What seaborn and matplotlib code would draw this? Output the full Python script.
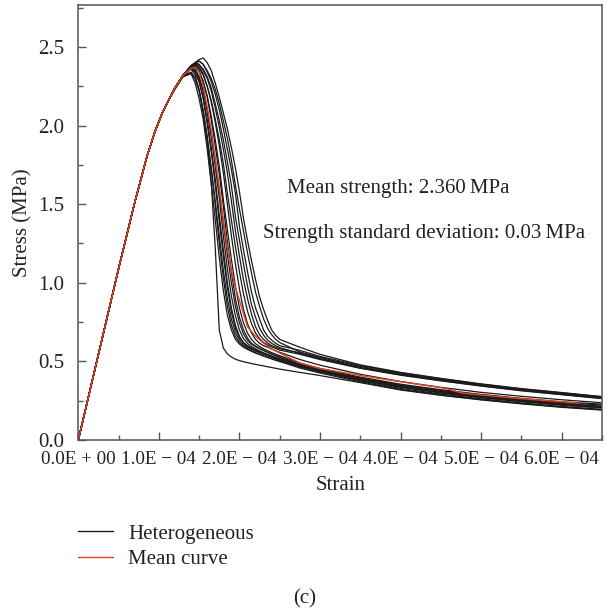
import numpy as np
import pandas as pd
import matplotlib
matplotlib.use("Agg")
import matplotlib.pyplot as plt
from matplotlib.lines import Line2D
import seaborn as sns

# ---------------- data (strain in units of 1e-4, stress in MPa) ----------------
STRAIN_UNIT = 1e-4

# shared elastic rise (all curves coincide here)
rise_strain = [0.0, 0.25, 0.5, 0.7, 0.85, 0.95, 1.05, 1.12]
rise_stress = [0.0, 0.545, 1.09, 1.51, 1.80, 1.96, 2.09, 2.16]

# common strain grid for the post-rise part of the heterogeneous curves
post_strain = [1.2, 1.3, 1.4, 1.45, 1.5, 1.55, 1.6, 1.65, 1.7, 1.75, 1.8, 1.85,
               1.9, 1.95, 2.0, 2.05, 2.1, 2.15, 2.2, 2.25, 2.3, 2.35, 2.4, 2.45,
               2.5, 2.75, 3.0, 3.5, 4.0, 4.5, 5.0, 5.5, 6.0, 6.5]

het_01 = [2.23, 2.31, 2.33, 2.30, 2.22, 2.08, 1.90, 1.64, 1.22, 0.70, 0.585, 0.548,
          0.528, 0.514, 0.505, 0.498, 0.492, 0.486, 0.481, 0.476, 0.471, 0.466, 0.461, 0.456,
          0.451, 0.430, 0.410, 0.365, 0.318, 0.284, 0.255, 0.230, 0.208, 0.190]
het_02 = [2.24, 2.32, 2.33, 2.27, 2.17, 2.04, 1.85, 1.63, 1.40, 1.16, 0.95, 0.795,
          0.70, 0.64, 0.61, 0.59, 0.576, 0.564, 0.553, 0.543, 0.534, 0.525, 0.517, 0.509,
          0.502, 0.466, 0.436, 0.382, 0.336, 0.300, 0.270, 0.245, 0.223, 0.205]
het_03 = [2.24, 2.32, 2.36, 2.32, 2.23, 2.10, 1.93, 1.72, 1.49, 1.25, 1.03, 0.85,
          0.73, 0.66, 0.62, 0.598, 0.582, 0.568, 0.556, 0.545, 0.535, 0.525, 0.516, 0.507,
          0.499, 0.458, 0.426, 0.370, 0.322, 0.287, 0.257, 0.232, 0.210, 0.193]
het_04 = [2.24, 2.32, 2.34, 2.30, 2.22, 2.09, 1.92, 1.73, 1.52, 1.30, 1.08, 0.90,
          0.77, 0.685, 0.635, 0.608, 0.590, 0.577, 0.565, 0.555, 0.545, 0.536, 0.527, 0.518,
          0.510, 0.470, 0.440, 0.388, 0.343, 0.307, 0.277, 0.252, 0.230, 0.213]
het_05 = [2.24, 2.32, 2.37, 2.34, 2.28, 2.17, 2.01, 1.83, 1.62, 1.39, 1.17, 0.97,
          0.815, 0.71, 0.652, 0.617, 0.598, 0.583, 0.570, 0.558, 0.547, 0.537, 0.527, 0.518,
          0.509, 0.470, 0.438, 0.383, 0.337, 0.300, 0.270, 0.245, 0.222, 0.205]
het_06 = [2.24, 2.32, 2.36, 2.34, 2.28, 2.18, 2.04, 1.86, 1.66, 1.43, 1.21, 1.00,
          0.84, 0.73, 0.66, 0.62, 0.600, 0.585, 0.573, 0.562, 0.552, 0.543, 0.534, 0.525,
          0.517, 0.478, 0.447, 0.395, 0.350, 0.315, 0.285, 0.260, 0.238, 0.222]
het_07 = [2.24, 2.32, 2.375, 2.36, 2.31, 2.22, 2.09, 1.93, 1.74, 1.54, 1.30, 1.09,
          0.915, 0.79, 0.70, 0.645, 0.615, 0.595, 0.580, 0.567, 0.555, 0.544, 0.533, 0.523,
          0.513, 0.465, 0.432, 0.376, 0.328, 0.292, 0.262, 0.236, 0.213, 0.195]
het_08 = [2.24, 2.32, 2.37, 2.35, 2.30, 2.22, 2.10, 1.95, 1.78, 1.59, 1.38, 1.18,
          1.00, 0.85, 0.745, 0.675, 0.633, 0.610, 0.594, 0.581, 0.569, 0.558, 0.547, 0.537,
          0.528, 0.482, 0.448, 0.392, 0.347, 0.310, 0.280, 0.255, 0.232, 0.215]
het_09 = [2.24, 2.32, 2.375, 2.385, 2.35, 2.28, 2.18, 2.04, 1.87, 1.69, 1.49, 1.26,
          1.07, 0.90, 0.78, 0.70, 0.648, 0.615, 0.597, 0.583, 0.570, 0.558, 0.546, 0.536,
          0.526, 0.475, 0.440, 0.385, 0.338, 0.302, 0.272, 0.247, 0.224, 0.206]
het_10 = [2.24, 2.32, 2.375, 2.375, 2.34, 2.28, 2.19, 2.06, 1.91, 1.74, 1.53, 1.34,
          1.15, 0.98, 0.84, 0.745, 0.68, 0.64, 0.612, 0.595, 0.580, 0.568, 0.556, 0.546,
          0.536, 0.490, 0.455, 0.400, 0.355, 0.320, 0.290, 0.265, 0.243, 0.228]
het_11 = [2.24, 2.32, 2.38, 2.395, 2.375, 2.33, 2.25, 2.15, 2.02, 1.87, 1.70, 1.50,
          1.30, 1.12, 0.96, 0.83, 0.74, 0.68, 0.64, 0.615, 0.600, 0.590, 0.578, 0.568,
          0.558, 0.512, 0.476, 0.418, 0.372, 0.335, 0.303, 0.278, 0.256, 0.237]
het_12 = [2.24, 2.32, 2.38, 2.39, 2.365, 2.32, 2.25, 2.16, 2.04, 1.91, 1.76, 1.57,
          1.40, 1.23, 1.07, 0.93, 0.82, 0.74, 0.68, 0.645, 0.620, 0.605, 0.592, 0.582,
          0.572, 0.545, 0.512, 0.456, 0.412, 0.376, 0.343, 0.313, 0.288, 0.263]
het_13 = [2.24, 2.32, 2.38, 2.40, 2.39, 2.35, 2.30, 2.22, 2.11, 1.99, 1.85, 1.70,
          1.52, 1.33, 1.17, 1.02, 0.90, 0.80, 0.72, 0.67, 0.640, 0.617, 0.600, 0.590,
          0.580, 0.555, 0.520, 0.462, 0.420, 0.383, 0.350, 0.320, 0.295, 0.270]
het_14 = [2.24, 2.32, 2.37, 2.40, 2.385, 2.36, 2.31, 2.24, 2.14, 2.03, 1.91, 1.77,
          1.62, 1.42, 1.27, 1.12, 0.98, 0.86, 0.78, 0.71, 0.667, 0.635, 0.615, 0.600,
          0.588, 0.550, 0.515, 0.458, 0.415, 0.378, 0.345, 0.315, 0.290, 0.265]
het_15 = [2.24, 2.32, 2.38, 2.40, 2.41, 2.39, 2.34, 2.28, 2.20, 2.10, 1.98, 1.85,
          1.72, 1.57, 1.36, 1.21, 1.07, 0.94, 0.84, 0.77, 0.70, 0.66, 0.635, 0.615,
          0.600, 0.570, 0.532, 0.474, 0.428, 0.390, 0.355, 0.325, 0.300, 0.275]
het_16 = [2.24, 2.32, 2.38, 2.40, 2.41, 2.39, 2.35, 2.30, 2.23, 2.14, 2.03, 1.92,
          1.78, 1.62, 1.47, 1.33, 1.19, 1.06, 0.94, 0.85, 0.77, 0.71, 0.67, 0.64,
          0.620, 0.560, 0.525, 0.468, 0.422, 0.385, 0.350, 0.320, 0.295, 0.270]
het_17 = [2.24, 2.32, 2.38, 2.40, 2.42, 2.43, 2.40, 2.35, 2.27, 2.18, 2.08, 1.98,
          1.86, 1.73, 1.58, 1.41, 1.27, 1.14, 1.02, 0.91, 0.83, 0.76, 0.70, 0.665,
          0.640, 0.590, 0.545, 0.478, 0.430, 0.392, 0.357, 0.327, 0.302, 0.276]

het_curves = [het_01, het_02, het_03, het_04, het_05, het_06, het_07, het_08, het_09,
              het_10, het_11, het_12, het_13, het_14, het_15, het_16, het_17]

# mean curve (post-rise part)
mean_strain = [1.2, 1.3, 1.4, 1.45, 1.5, 1.55, 1.6, 1.65, 1.7, 1.75, 1.8, 1.85, 1.9,
               1.95, 2.0, 2.1, 2.2, 2.3, 2.4, 2.5, 2.75, 3.0, 3.5, 4.0, 4.5, 4.6,
               4.75, 5.0, 5.5, 6.0, 6.22]
mean_stress = [2.24, 2.32, 2.365, 2.37, 2.34, 2.25, 2.12, 1.97, 1.79, 1.60, 1.40, 1.22, 1.08,
               0.97, 0.89, 0.72, 0.66, 0.615, 0.58, 0.553, 0.49, 0.455, 0.41, 0.371, 0.333, 0.323,
               0.300, 0.286, 0.263, 0.243, 0.234]

x_tick_values = [0, 1, 2, 3, 4, 5, 6]
x_tick_labels = ["0.0E + 00", "1.0E \u2212 04", "2.0E \u2212 04", "3.0E \u2212 04",
                 "4.0E \u2212 04", "5.0E \u2212 04", "6.0E \u2212 04"]
y_tick_values = [0.0, 0.5, 1.0, 1.5, 2.0, 2.5]
y_tick_labels = ["0.0", "0.5", "1.0", "1.5", "2.0", "2.5"]

mean_strength_text = "Mean strength: 2.360\u2009MPa"
std_text = "Strength standard deviation: 0.03\u2009MPa"

# ---------------- build long-form table ----------------
rows = []
for i, curve in enumerate(het_curves):
    xs = list(rise_strain) + list(post_strain)
    ys = list(rise_stress) + list(curve)
    for k, (sx, sy) in enumerate(zip(xs, ys)):
        rows.append({"curve": i, "order": k, "strain": sx * STRAIN_UNIT, "stress": sy})
het_df = pd.DataFrame(rows)
mean_df = pd.DataFrame({
    "strain": np.array(list(rise_strain) + list(mean_strain)) * STRAIN_UNIT,
    "stress": list(rise_stress) + list(mean_stress),
})

# ---------------- style ----------------
sns.set_style("ticks")
plt.rcParams["font.family"] = ["Liberation Serif", "DejaVu Serif"]
plt.rcParams["mathtext.fontset"] = "stix"

BLACK = "#1b1b1b"
RED = "#e8401f"
SPINE = "#555555"
TXT = "#222222"
FS = 15

fig = plt.figure(figsize=(6.08, 6.10), dpi=100)
ax = fig.add_axes([78.3 / 608, 1 - 440 / 610, (602 - 78.3) / 608, (440 - 5) / 610])

sns.lineplot(data=het_df, x="strain", y="stress", units="curve", estimator=None,
             sort=False, color=BLACK, linewidth=0.9, ax=ax, legend=False)
sns.lineplot(data=mean_df, x="strain", y="stress", estimator=None, sort=False,
             color=RED, linewidth=1.0, ax=ax, legend=False)

ax.set_xlim(0, 6.49 * STRAIN_UNIT)
ax.set_ylim(0, 2.767)

ax.set_xticks([v * STRAIN_UNIT for v in x_tick_values])
ax.set_xticklabels(x_tick_labels)
ax.set_xticks([(v + 0.5) * STRAIN_UNIT for v in x_tick_values], minor=True)
ax.set_yticks(y_tick_values)
ax.set_yticklabels(y_tick_labels)
ax.set_yticks([v + 0.25 for v in y_tick_values], minor=True)

ax.tick_params(axis="both", which="both", direction="in", color=SPINE, labelcolor=TXT)
ax.tick_params(axis="x", which="major", labelsize=13.8)
ax.tick_params(axis="y", which="major", labelsize=15)
ax.tick_params(axis="both", which="major", length=6, width=1.0)
ax.tick_params(axis="both", which="minor", length=3.5, width=1.0)
ax.tick_params(axis="x", which="major", pad=8)
ax.tick_params(axis="y", which="major", pad=10)

for side in ["left", "bottom", "top", "right"]:
    ax.spines[side].set_visible(True)
    ax.spines[side].set_color(SPINE)
    ax.spines[side].set_linewidth(1.1)

ax.set_xlabel("Strain", fontsize=FS, color=TXT, labelpad=6)
ax.set_ylabel("Stress (MPa)", fontsize=FS, color=TXT, labelpad=4)

ax.text(3.97 * STRAIN_UNIT, 1.60, mean_strength_text, fontsize=FS, color=TXT,
        ha="center", va="center")
ax.text(4.29 * STRAIN_UNIT, 1.315, std_text, fontsize=FS, color=TXT,
        ha="center", va="center")

handles = [Line2D([], [], color=BLACK, linewidth=1.0),
           Line2D([], [], color=RED, linewidth=1.0)]
fig.legend(handles, ["Heterogeneous", "Mean curve"], loc="upper left",
           bbox_to_anchor=(78 / 608, 1 - 524 / 610), frameon=False, fontsize=FS,
           handlelength=1.7, handletextpad=0.7, labelspacing=0.3, borderpad=0,
           borderaxespad=0, labelcolor=TXT)

fig.text(305 / 608, 1 - 599 / 610, "(c)", fontsize=FS, color=TXT,
         ha="center", va="center")

fig.savefig("out.png", dpi=100)
